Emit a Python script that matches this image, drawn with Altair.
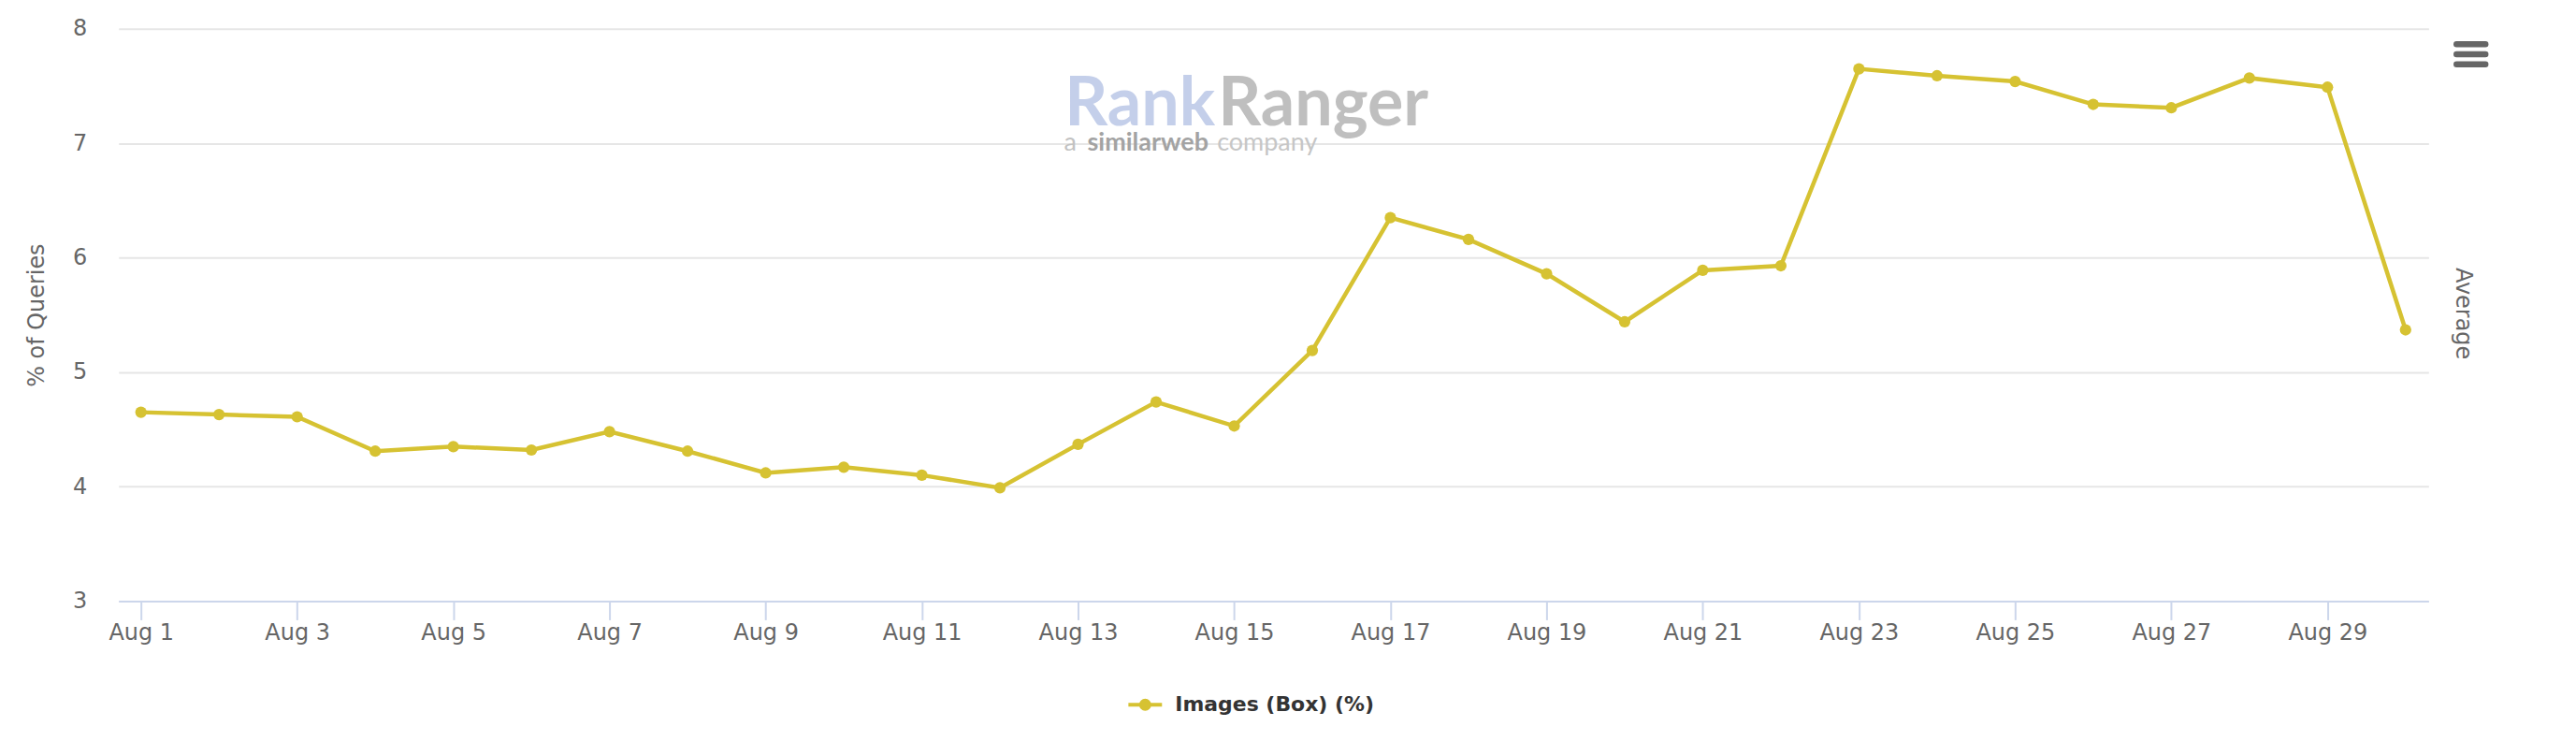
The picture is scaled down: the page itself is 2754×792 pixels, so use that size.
import altair as alt
import pandas as pd

days = list(range(1, 31))
values = [4.65, 4.63, 4.61, 4.31, 4.35, 4.32, 4.48, 4.31, 4.12, 4.17,
          4.10, 3.99, 4.37, 4.74, 4.53, 5.19, 6.35, 6.16, 5.86, 5.44,
          5.89, 5.93, 7.65, 7.59, 7.54, 7.34, 7.31, 7.57, 7.49, 5.37]
series_name = "Images (Box) (%)"
tick_days = [1, 3, 5, 7, 9, 11, 13, 15, 17, 19, 21, 23, 25, 27, 29]
y_ticks = [3, 4, 5, 6, 7, 8]

COLOR = "#d6c232"
FONT = "DejaVu Sans"
W, H = 2475, 613

df = pd.DataFrame({"day": days, "value": values, "series": [series_name] * len(days)})

x_enc = alt.X("day:Q",
              scale=alt.Scale(domain=[0.713, 30.294], nice=False, zero=False),
              axis=alt.Axis(values=tick_days, labelExpr="'Aug ' + datum.value",
                            grid=False, domainColor="#ccd6eb", domainWidth=2,
                            tickColor="#ccd6eb", tickWidth=2, tickSize=20,
                            labelFont=FONT, labelFontSize=24, labelColor="#666666",
                            labelPadding=2, title=None))
y_enc = alt.Y("value:Q",
              scale=alt.Scale(domain=[3, 8], nice=False, zero=False),
              axis=alt.Axis(values=y_ticks, format="d", grid=True, gridColor="#e6e6e6", gridWidth=2,
                            domain=False, ticks=False,
                            labelFont=FONT, labelFontSize=24, labelColor="#666666",
                            labelPadding=34, title="% of Queries", titleFont=FONT,
                            titleFontSize=24, titleFontWeight="normal",
                            titleColor="#666666", titlePadding=26))
color_enc = alt.Color("series:N",
                      scale=alt.Scale(domain=[series_name], range=[COLOR]),
                      legend=alt.Legend(title=None, orient="none", legendX=1080, legendY=704,
                                        symbolType="M-1,0L1,0M-0.25,0A0.25,0.25,0,1,0,0.25,0A0.25,0.25,0,1,0,-0.25,0Z",
                                        symbolSize=1296, symbolStrokeWidth=4,
                                        symbolFillColor=COLOR, symbolStrokeColor=COLOR,
                                        labelFont=FONT, labelFontSize=22, labelFontWeight="bold",
                                        labelColor="#333333", labelOffset=12, labelLimit=0,
                                        padding=0))

base = alt.Chart(df)
line = base.mark_line(strokeWidth=4.5).encode(x=x_enc, y=y_enc, color=color_enc)
pts = base.mark_circle(size=150, opacity=1).encode(
    x="day:Q", y="value:Q",
    color=alt.Color("series:N", legend=None, scale=alt.Scale(domain=[series_name], range=[COLOR])))

# watermark logo
logo_rank = alt.Chart().mark_text(text="Rank", font="Lato", fontSize=72, fontWeight="bold",
                                  color="#c4cfea", align="right", baseline="alphabetic").encode(
    x=alt.value(1175), y=alt.value(103))
logo_ranger = alt.Chart().mark_text(text="Ranger", font="Lato", fontSize=72, fontWeight="bold",
                                    color="#bfbfbf", align="left", baseline="alphabetic").encode(
    x=alt.value(1178), y=alt.value(103))
logo_a = alt.Chart().mark_text(text="a", font="Lato", fontSize=27, color="#c2c2c2",
                               align="left", baseline="alphabetic").encode(
    x=alt.value(1013), y=alt.value(130))
logo_sim = alt.Chart().mark_text(text="similarweb", font="Lato", fontSize=27, fontWeight="bold",
                                 color="#a3a3a3", align="left", baseline="alphabetic").encode(
    x=alt.value(1038), y=alt.value(130))
logo_comp = alt.Chart().mark_text(text="company", font="Lato", fontSize=27, color="#c6c6c6",
                                  align="left", baseline="alphabetic").encode(
    x=alt.value(1177), y=alt.value(130))

avg = alt.Chart().mark_text(text="Average", font=FONT, fontSize=24, color="#666666",
                            angle=90, align="center", baseline="middle").encode(
    x=alt.value(2512), y=alt.value(305))

menu_df = pd.DataFrame({"k": [0, 1, 2]})
menu = alt.Chart(menu_df).mark_rule(color="#666666", strokeWidth=6.5, strokeCap="round").encode(
    x=alt.value(2505), x2=alt.value(2536),
    y=alt.Y("k:Q", scale=alt.Scale(domain=[0, 2], range=[16.5, 38]), axis=None))

chart = alt.layer(line, pts, logo_rank, logo_ranger, logo_a, logo_sim, logo_comp, avg).properties(
    width=W, height=H)
chart = alt.layer(chart, menu).resolve_scale(y="independent").properties(
    width=W, height=H,
    autosize=alt.AutoSizeParams(type="none"),
    padding={"left": 119, "top": 22, "right": 150, "bottom": 149},
    background="white"
).configure_view(stroke=None)

chart.save("out.html", embed_options={"renderer": "svg", "actions": False})
